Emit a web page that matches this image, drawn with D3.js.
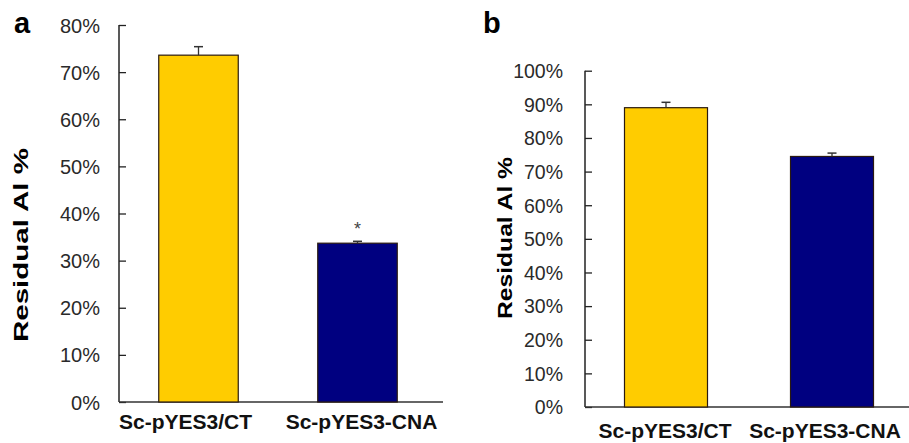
<!DOCTYPE html>
<html>
<head>
<meta charset="utf-8">
<script src="https://d3js.org/d3.v7.min.js"></script>
<style>
    body { margin: 0; background: #fff; }
    svg { display: block; font-family: Arial, "Liberation Sans", sans-serif; }
</style>
</head>
<body>
<div id="chart"></div>
<script>

// data
var categories = ["Sc-pYES3/CT", "Sc-pYES3-CNA"];
var colors = ["#FFCC00", "#000080"];

var valuesA = [73.6, 33.7];
var errorsA = [1.8, 0.4];
var ticksA = [0, 10, 20, 30, 40, 50, 60, 70, 80];
var starsA = ["", "*"];

var valuesB = [89.0, 74.5];
var errorsB = [1.6, 1.0];
var ticksB = [0, 10, 20, 30, 40, 50, 60, 70, 80, 90, 100];
var starsB = ["", ""];

var svg = d3.select("#chart").append("svg")
    .attr("width", 909)
    .attr("height", 443);

BarPanel = function(_svg, _opts){
    this.svg = _svg;
    this.opts = _opts;
    this.initVis();
}

BarPanel.prototype.initVis = function(){
    var vis = this;
    var o = vis.opts;

    vis.g = vis.svg.append("g");

    vis.y = d3.scaleLinear()
        .domain([0, d3.max(o.ticks)])
        .range([o.bottom, o.top]);

    vis.x = d3.scaleBand()
        .domain(categories)
        .range(o.xRange)
        .paddingInner(0.5)
        .paddingOuter(0.25);

    // panel letter
    vis.g.append("text")
        .attr("x", o.letterX)
        .attr("y", 33)
        .style("font-size", "29px")
        .style("font-weight", "bold")
        .text(o.letter);

    // y axis title
    vis.g.append("text")
        .attr("transform", "translate(" + o.titleX + "," + o.titleY + ") rotate(-90)")
        .attr("text-anchor", "middle")
        .attr("textLength", o.titleLen)
        .attr("lengthAdjust", "spacingAndGlyphs")
        .style("font-size", "21px")
        .style("font-weight", "bold")
        .text("Residual Al %");

    // y axis with inward ticks
    var yAxis = d3.axisRight(vis.y)
        .tickValues(o.ticks)
        .tickSize(7)
        .tickFormat(function(d){ return d + "%"; });

    var ax = vis.g.append("g")
        .attr("transform", "translate(" + o.axisX + ",0)")
        .call(yAxis);
    ax.select(".domain").remove();
    ax.selectAll("line").attr("stroke", "#222").attr("stroke-width", 1.3);
    ax.selectAll("text")
        .attr("x", -o.labelGap)
        .attr("text-anchor", "end")
        .attr("dy", "0.35em")
        .attr("fill", "#2a2a2a")
        .style("font-size", o.tickFont);

    vis.g.append("line")
        .attr("x1", o.axisX).attr("x2", o.axisX)
        .attr("y1", o.top).attr("y2", o.bottom)
        .attr("stroke", "#222").attr("stroke-width", 1.5);

    vis.g.append("line")
        .attr("x1", o.axisX).attr("x2", o.axisEnd)
        .attr("y1", o.bottom).attr("y2", o.bottom)
        .attr("stroke", "#333").attr("stroke-width", 1.5);

    vis.updateVis();
}

BarPanel.prototype.updateVis = function(){
    var vis = this;
    var o = vis.opts;
    var data = categories.map(function(c, i){
        return { cat: c, v: o.values[i], e: o.errors[i], color: colors[i], star: o.stars[i], shift: o.catShift[i] };
    });

    // bars
    vis.g.selectAll(".bar")
        .data(data)
        .enter().append("rect")
        .attr("class", "bar")
        .attr("x", function(d){ return vis.x(d.cat); })
        .attr("width", vis.x.bandwidth())
        .attr("y", function(d){ return vis.y(d.v); })
        .attr("height", function(d){ return vis.y(0) - vis.y(d.v); })
        .attr("fill", function(d){ return d.color; })
        .attr("stroke", "#2a1a10")
        .attr("stroke-width", 1.2);

    // upper error bars
    var cx = function(d){ return vis.x(d.cat) + vis.x.bandwidth() / 2; };
    var err = vis.g.selectAll(".err")
        .data(data)
        .enter().append("g")
        .attr("class", "err");
    err.append("line")
        .attr("x1", cx).attr("x2", cx)
        .attr("y1", function(d){ return vis.y(d.v); })
        .attr("y2", function(d){ return vis.y(d.v + d.e); })
        .attr("stroke", "#333").attr("stroke-width", 1.3);
    err.append("line")
        .attr("x1", function(d){ return cx(d) - 4.5; })
        .attr("x2", function(d){ return cx(d) + 4.5; })
        .attr("y1", function(d){ return vis.y(d.v + d.e); })
        .attr("y2", function(d){ return vis.y(d.v + d.e); })
        .attr("stroke", "#333").attr("stroke-width", 1.5);

    // significance marks
    vis.g.selectAll(".star")
        .data(data.filter(function(d){ return d.star; }))
        .enter().append("text")
        .attr("class", "star")
        .attr("x", cx)
        .attr("y", function(d){ return vis.y(d.v + d.e) - 6; })
        .attr("text-anchor", "middle")
        .attr("fill", "#444")
        .style("font-size", "18px")
        .text(function(d){ return d.star; });

    // category labels (slightly off-centre in the original)
    vis.g.selectAll(".cat")
        .data(data)
        .enter().append("text")
        .attr("class", "cat")
        .attr("x", function(d){ return cx(d) + d.shift; })
        .attr("y", o.catY)
        .attr("text-anchor", "middle")
        .attr("fill", "#111")
        .style("font-size", "21px")
        .style("font-weight", "bold")
        .text(function(d){ return d.cat; });
}

var panelA = new BarPanel(svg, {
    letter: "a", letterX: 14,
    values: valuesA, errors: errorsA, ticks: ticksA, stars: starsA,
    top: 25, bottom: 402, axisX: 119, axisEnd: 443,
    xRange: [119, 437], labelGap: 19, tickFont: "20px",
    titleX: 28, titleY: 245, titleLen: 194, catY: 429,
    catShift: [-13, 4]
});

var panelB = new BarPanel(svg, {
    letter: "b", letterX: 483,
    values: valuesB, errors: errorsB, ticks: ticksB, stars: starsB,
    top: 70.7, bottom: 407, axisX: 585, axisEnd: 909,
    xRange: [583, 915], labelGap: 22, tickFont: "19.5px",
    titleX: 512, titleY: 238, titleLen: 162, catY: 438,
    catShift: [-1, -7]
});

</script>
</body>
</html>
